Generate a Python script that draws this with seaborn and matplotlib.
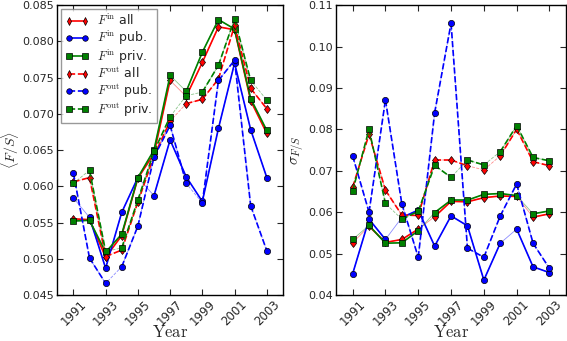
import numpy as np
import pandas as pd
import matplotlib
matplotlib.use("Agg")
import matplotlib.pyplot as plt
from matplotlib.lines import Line2D
import seaborn as sns

# -------------------------------------------------------
# Data
# -------------------------------------------------------

years = list(range(1991, 2004))

# left panel: mean <F/S>
mean_in_all = [0.0555, 0.0554, 0.0502, 0.0532, 0.0611, 0.0645, 0.0746, 0.0724, 0.0771, 0.0820, 0.0816, 0.0718, 0.0673]
mean_in_pub = [0.0584, 0.0557, 0.0487, 0.0564, 0.0612, 0.0587, 0.0664, 0.0613, 0.0579, 0.0680, 0.0770, 0.0678, 0.0612]
mean_in_priv = [0.0552, 0.0553, 0.0509, 0.0534, 0.0612, 0.0650, 0.0753, 0.0731, 0.0785, 0.0830, 0.0817, 0.0721, 0.0677]
mean_out_all = [0.0606, 0.0612, 0.0503, 0.0512, 0.0578, 0.0642, 0.0690, 0.0714, 0.0720, 0.0748, 0.0822, 0.0735, 0.0707]
mean_out_pub = [0.0618, 0.0501, 0.0466, 0.0489, 0.0545, 0.0640, 0.0684, 0.0604, 0.0577, 0.0746, 0.0774, 0.0573, 0.0511]
mean_out_priv = [0.0604, 0.0622, 0.0510, 0.0515, 0.0581, 0.0648, 0.0696, 0.0725, 0.0730, 0.0767, 0.0831, 0.0746, 0.0719]

# right panel: sigma_{F/S}
sd_in_all = [0.0526, 0.0566, 0.0527, 0.0534, 0.0559, 0.0589, 0.0626, 0.0625, 0.0635, 0.0639, 0.0638, 0.0588, 0.0596]
sd_in_pub = [0.0451, 0.0583, 0.0534, 0.0587, 0.0605, 0.0518, 0.0591, 0.0567, 0.0436, 0.0525, 0.0559, 0.0468, 0.0454]
sd_in_priv = [0.0534, 0.0568, 0.0525, 0.0526, 0.0555, 0.0599, 0.0629, 0.0629, 0.0643, 0.0645, 0.0640, 0.0596, 0.0603]
sd_out_all = [0.0660, 0.0788, 0.0653, 0.0593, 0.0592, 0.0726, 0.0726, 0.0712, 0.0702, 0.0736, 0.0800, 0.0722, 0.0712]
sd_out_pub = [0.0736, 0.0600, 0.0871, 0.0620, 0.0491, 0.0840, 0.1056, 0.0513, 0.0491, 0.0591, 0.0668, 0.0525, 0.0464]
sd_out_priv = [0.0651, 0.0800, 0.0621, 0.0583, 0.0602, 0.0713, 0.0684, 0.0726, 0.0714, 0.0746, 0.0809, 0.0732, 0.0724]

labels = [r"$F^{\rm in}$ all", r"$F^{\rm in}$ pub.", r"$F^{\rm in}$ priv.",
          r"$F^{\rm out}$ all", r"$F^{\rm out}$ pub.", r"$F^{\rm out}$ priv."]

# segments (given by start year) that show up only as a thin faded line
faint_left = [[1997], [1991, 1995], [1997], [1997], [1993, 1998], [1991, 1993, 1997, 1998, 2002]]
faint_right = [[1991, 1995, 2001], [1993, 2000], [1991, 1995, 2001], [1998, 1999], [], [1993, 1997, 1999]]

# -------------------------------------------------------
# Style
# -------------------------------------------------------

sns.set_style("ticks")
plt.rcParams["font.family"] = ["DejaVu Sans"]
plt.rcParams["mathtext.fontset"] = "cm"
plt.rcParams["xtick.direction"] = "in"
plt.rcParams["ytick.direction"] = "in"
plt.rcParams["xtick.top"] = True
plt.rcParams["ytick.right"] = True
plt.rcParams["xtick.major.size"] = 4
plt.rcParams["ytick.major.size"] = 4
plt.rcParams["xtick.major.pad"] = 2
plt.rcParams["ytick.major.pad"] = 2.5

colors = ["red", "blue", "green"] * 2
markers = ["d", "o", "s"] * 2
styles = ["-", "-", "-", "--", "--", "--"]

fig = plt.figure(figsize=(5.67, 3.41), dpi=100)
ax1 = fig.add_axes([0.101, 0.135, 0.398, 0.85])
ax2 = fig.add_axes([0.593, 0.135, 0.405, 0.85])

left_series = [mean_in_all, mean_in_pub, mean_in_priv, mean_out_all, mean_out_pub, mean_out_priv]
right_series = [sd_in_all, sd_in_pub, sd_in_priv, sd_out_all, sd_out_pub, sd_out_priv]

for ax, series, faint in [(ax1, left_series, faint_left), (ax2, right_series, faint_right)]:
    for vals, c, m, ls, fl in zip(series, colors, markers, styles, faint):
        # thin faded line under everything
        sns.lineplot(x=years, y=vals, ax=ax, color=c, linewidth=0.6,
                     alpha=0.45, linestyle=ls, legend=False)
        # full-weight segments
        for i in range(len(years) - 1):
            if years[i] in fl:
                continue
            sns.lineplot(x=years[i:i + 2], y=vals[i:i + 2], ax=ax, color=c,
                         linewidth=1.2, linestyle=ls, legend=False)
        # markers
        sns.lineplot(x=years, y=vals, ax=ax, color=c, linestyle="",
                     marker=m, markersize=4.5, markeredgecolor="black",
                     markeredgewidth=0.5, legend=False)

    ax.set_xlim(1990, 2004)
    ax.set_xticks(range(1991, 2004, 2))
    ax.set_xticklabels([str(y) for y in range(1991, 2004, 2)], rotation=45, fontsize=8.5)
    ax.tick_params(axis="y", labelsize=8)
    ax.set_xlabel(r"$\mathrm{Year}$", fontsize=12)
    ax.xaxis.set_label_coords(0.5, -0.098)
    for sp in ax.spines.values():
        sp.set_linewidth(1.0)
        sp.set_color("black")

ax1.set_ylim(0.045, 0.085)
ax1.set_yticks(np.arange(0.045, 0.0851, 0.005))
ax1.set_yticklabels(["%.3f" % v for v in np.arange(0.045, 0.0851, 0.005)])
ax1.set_ylabel(r"$\langle F/S\rangle$", fontsize=10)
ax1.yaxis.set_label_coords(-0.16, 0.5)

ax2.set_ylim(0.04, 0.11)
ax2.set_yticks(np.arange(0.04, 0.1101, 0.01))
ax2.set_yticklabels(["%.2f" % v for v in np.arange(0.04, 0.1101, 0.01)])
ax2.set_ylabel(r"$\sigma_{F/S}$", fontsize=11)
ax2.yaxis.set_label_coords(-0.13, 0.5)

handles = [
    Line2D([], [], color=c, linestyle=ls, linewidth=1.2, marker=m, markersize=4,
           markeredgecolor="black", markeredgewidth=0.5)
    for c, m, ls in zip(colors, markers, styles)
]
leg = ax1.legend(handles, labels, loc="upper left", fontsize=9, numpoints=2,
                 handlelength=1.9, frameon=True, fancybox=False, borderaxespad=0.3,
                 labelspacing=0.05, handletextpad=0.6, borderpad=0.35)
leg.get_frame().set_edgecolor("gray")
leg.get_frame().set_linewidth(1.0)

plt.savefig("out.png", dpi=100)
plt.close()
